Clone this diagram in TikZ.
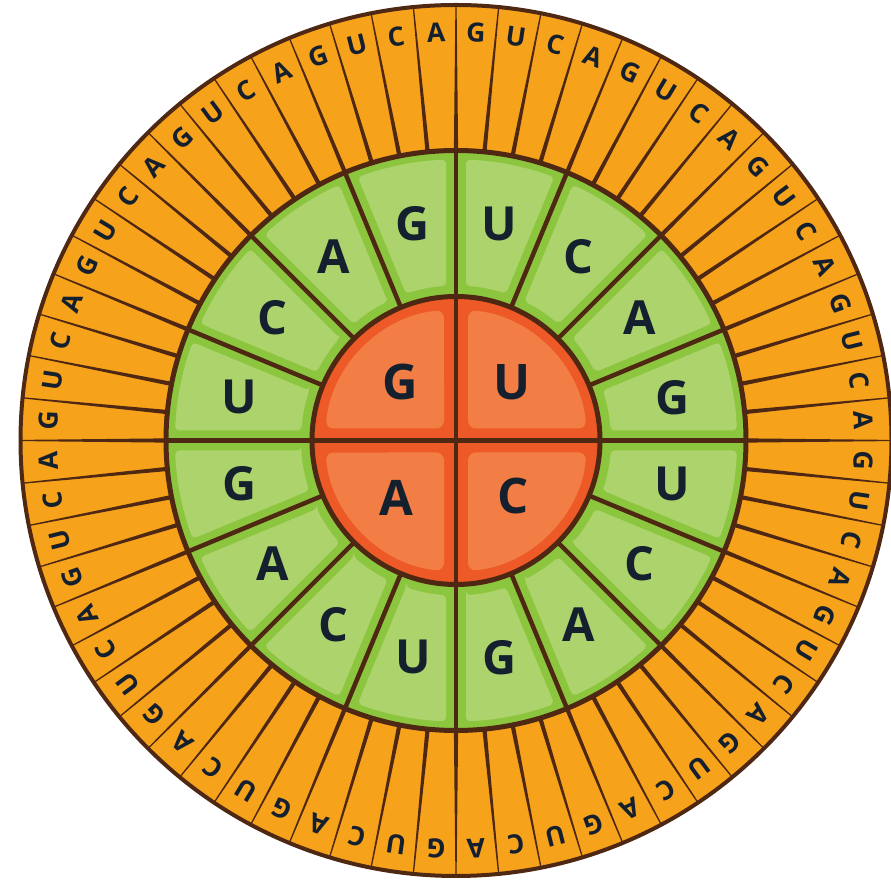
\documentclass[tikz,border=0pt]{standalone}
\usepackage{fontspec}
\setmainfont{Open Sans}
\definecolor{ringorange}{HTML}{F7A21B}
\definecolor{brownc}{HTML}{4E2812}
\definecolor{darkgreen}{HTML}{8CC63F}
\definecolor{lightgreen}{HTML}{ADD36C}
\definecolor{redrim}{HTML}{EE5A27}
\definecolor{lightorange}{HTML}{F27E45}
\definecolor{textc}{HTML}{15202E}
\tikzset{
  outerletter/.style={text=textc, inner sep=0pt, font=\fontsize{26.5}{26.5}\selectfont\bfseries},
  midletter/.style={text=textc, inner sep=0pt, font=\fontsize{47}{47}\selectfont\bfseries},
  innerletter/.style={text=textc, inner sep=0pt, font=\fontsize{49}{49}\selectfont\bfseries},
  taper/.style={fill=brownc},
  sepline/.style={draw=brownc, line width=4.5pt},
  ringline/.style={draw=brownc, line width=5pt},
}
\begin{document}
\begin{tikzpicture}[x=1pt,y=1pt]
\useasboundingbox (0,0) rectangle (891,880);
\begin{scope}[shift={(456,439.5)}]
  % outer orange ring
  \fill[ringorange] (0,0) circle (436);
  \foreach \k in {0,...,63}{
    \pgfmathsetmacro\t{90-\k*5.625}
    \fill[taper] ({\t+0.42}:290) -- ({\t+0.08}:435) -- ({\t-0.08}:435) -- ({\t-0.42}:290) -- cycle;
  }
  \draw[brownc, line width=4pt] (0,0) circle (435.5);
  % green ring
  \fill[darkgreen] (0,0) circle (290);
  \foreach \j in {0,...,15}{
    \pgfmathsetmacro\a{\j*22.5}
    \fill[lightgreen, rounded corners=4pt]
      ({\a+3.70}:155) -- ({\a+2.04}:281)
      arc[start angle=\a+2.04, end angle=\a+22.5-2.04, radius=281]
      -- ({\a+22.5-3.70}:155)
      arc[start angle=\a+22.5-3.70, end angle=\a+3.70, radius=155] -- cycle;
  }
  \foreach \j in {0,...,15}{
    \draw[sepline] ({\j*22.5}:144) -- ({\j*22.5}:290);
  }
  \draw[ringline] (0,0) circle (290);
  % red centre
  \fill[redrim] (0,0) circle (144);
  \foreach \q in {0,...,3}{
    \fill[lightorange, rounded corners=8pt, rotate=\q*90]
      (12,12) -- (12,130.45) arc[start angle=84.74, end angle=5.26, radius=131] -- cycle;
  }
  \draw[sepline] (-144,0) -- (144,0);
  \draw[sepline] (0,-144) -- (0,144);
  \draw[ringline] (0,0) circle (144);
  % inner letters
  \node[innerletter] (iU) at (56,58) {U};
  \node[innerletter] (iC) at (57,-56) {C};
  \node[innerletter] (iA) at (-60,-57) {A};
  \node[innerletter] (iG) at (-56,58) {G};
  % middle letters
  \foreach \j in {0,...,15}{
    \pgfmathsetmacro\t{90-(\j+0.5)*22.5}
    \pgfmathtruncatemacro\m{mod(\j,4)}
    \node[midletter] (m\j) at (\t:221) {\ifcase\m U\or C\or A\or G\fi};
  }
  % outer letters
  \foreach \k in {0,...,63}{
    \pgfmathsetmacro\t{90-(\k+0.5)*5.625}
    \pgfmathtruncatemacro\m{mod(\k,4)}
    \node[outerletter, rotate=\t-90] (o\k) at (\t:408) {\ifcase\m G\or U\or C\or A\fi};
  }
\end{scope}
\end{tikzpicture}
\end{document}
